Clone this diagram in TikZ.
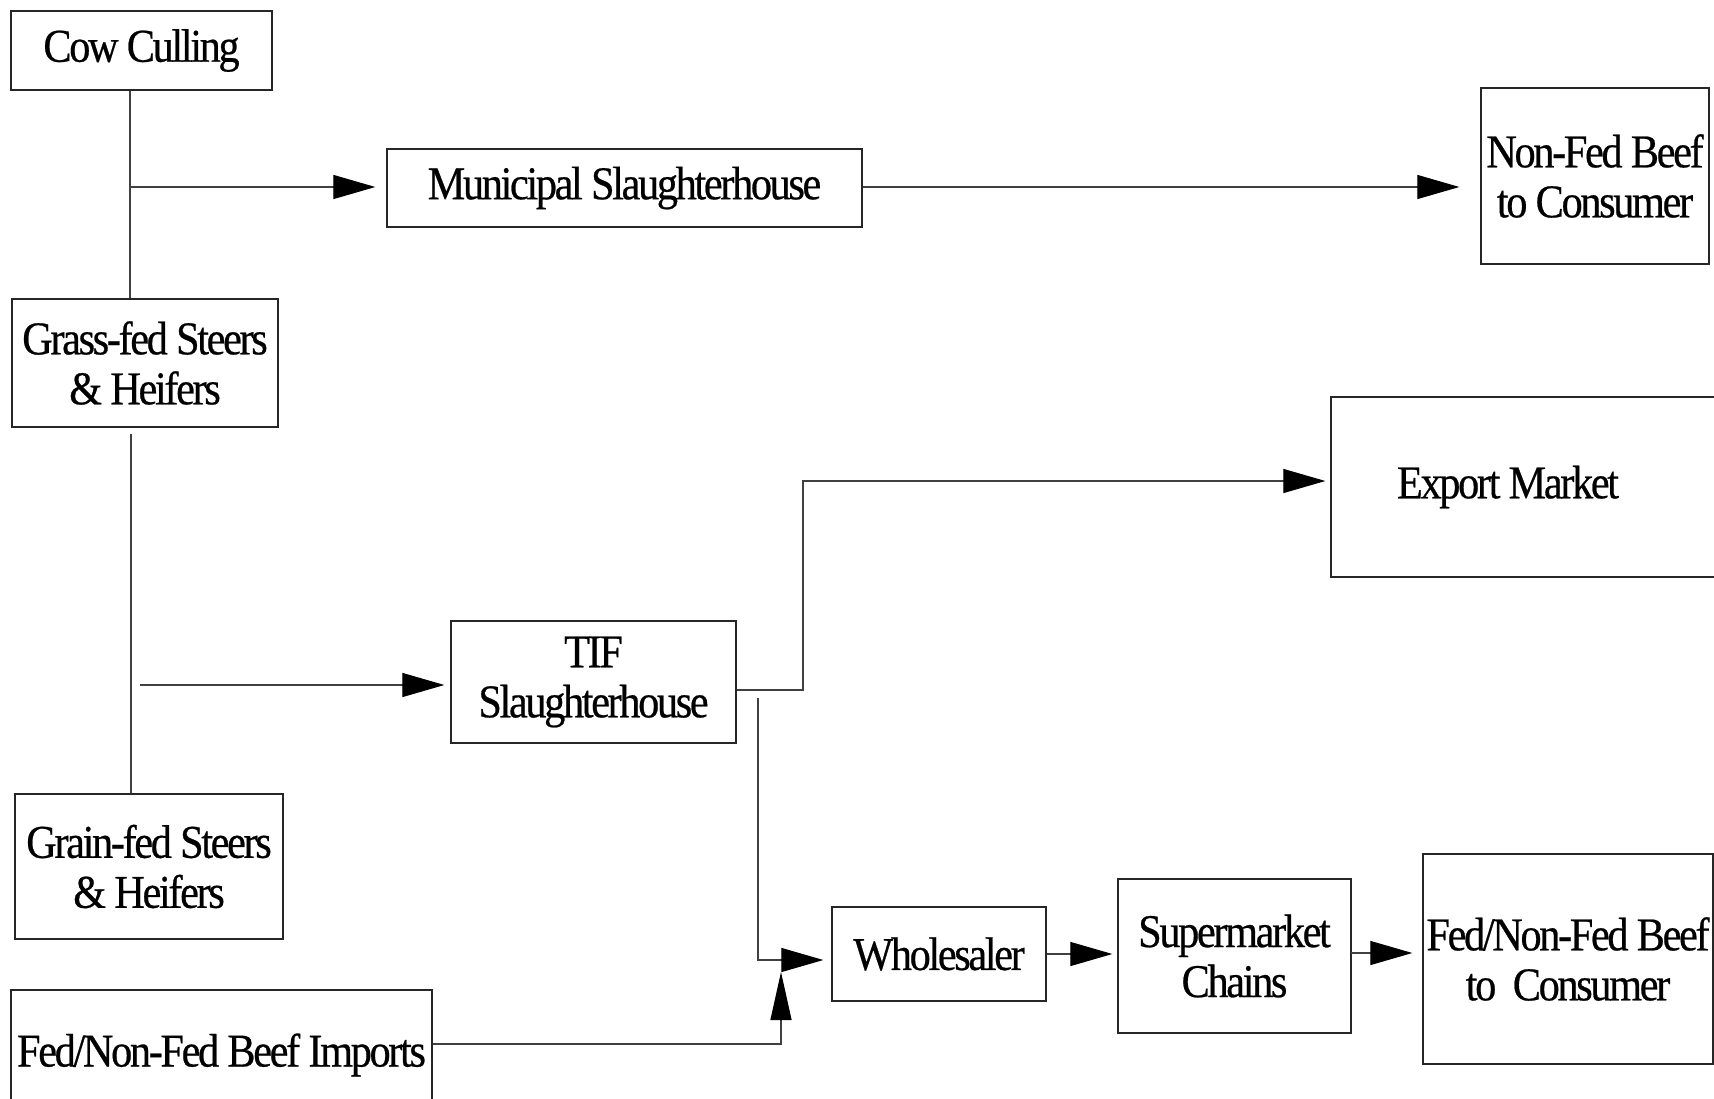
\documentclass[tikz,border=0pt]{standalone}
\usepackage{fontspec}
\setmainfont{Liberation Serif}[FakeStretch=0.9,LetterSpace=-5,FakeBold=0.5]
\usetikzlibrary{arrows.meta}
\begin{document}
\begin{tikzpicture}[x=1pt,y=-1pt,
  box/.style={draw=black!85, line width=1.3pt, inner sep=0pt, align=center,
              font=\fontsize{47}{50}\selectfont},
  conn/.style={draw=black!75, line width=1.2pt},
  arr/.style={conn, -{Triangle[length=42pt,width=24pt,black]}},
  uparr/.style={conn, -{Triangle[length=48pt,width=21pt,black]}}]
\useasboundingbox (0,0) rectangle (1714,1099);
\clip (0,0) rectangle (1714,1099);
\fill[white] (0,0) rectangle (1714,1099);

% boxes
\node[box, minimum width=261pt, minimum height=79pt]  (cow)     at (141.5,50.5) {Cow Culling};
\node[box, minimum width=475pt, minimum height=78pt]  (muni)    at (624.5,188)  {Municipal Slaughterhouse};
\node[box, minimum width=228pt, minimum height=176pt] (nonfed)  at (1595,176)   {Non-Fed Beef\\to Consumer};
\node[box, minimum width=266pt, minimum height=128pt] (grass)   at (145,363)    {Grass-fed Steers\\\& Heifers};
\node[box, minimum width=394pt, minimum height=180pt] (export)  at (1528,487)   {Export Market\hspace{40pt}};
\node[box, minimum width=285pt, minimum height=122pt] (tif)     at (593.5,682)  {TIF\\Slaughterhouse};
\node[box, minimum width=268pt, minimum height=145pt] (grain)   at (149,866.5)  {Grain-fed Steers\\\& Heifers};
\node[box, minimum width=421pt, minimum height=130pt] (imports) at (221.5,1055)  {Fed/Non-Fed Beef Imports};
\node[box, minimum width=214pt, minimum height=94pt]  (whole)   at (939,954)    {Wholesaler};
\node[box, minimum width=233pt, minimum height=154pt] (super)   at (1234.5,956) {Supermarket\\Chains};
\node[box, minimum width=290pt, minimum height=210pt] (fed)     at (1568,959)   {Fed/Non-Fed Beef\\to\ \ Consumer};

% trunk from Cow Culling to Grass-fed
\coordinate (t1) at (130,0);
\draw[conn] (cow.south -| t1) -- (grass.north -| t1);
\coordinate (j1) at (130,187);
\draw[arr, shorten >=11pt] (j1) -- (j1 -| muni.west);
\draw[arr, shorten >=21pt] (muni.east |- j1) -- (nonfed.west |- j1);

% trunk from Grass-fed to Grain-fed
\coordinate (t2) at (131,0);
\draw[conn] ([yshift=-6pt]grass.south -| t2) -- (grain.north -| t2);
\coordinate (j2) at (140,685);
\draw[arr, shorten >=6pt] (j2) -- (j2 -| tif.west);

% TIF to Export Market
\coordinate (e1) at (803,690);
\coordinate (e2) at (803,481);
\draw[arr, shorten >=5pt] (tif.east |- e1) -- (e1) -- (e2) -- (e2 -| export.west);

% TIF to Wholesaler
\coordinate (w1) at (758,698);
\coordinate (w2) at (758,960);
\draw[arr, shorten >=8pt] (w1) -- (w2) -- (w2 -| whole.west);

% Imports to Wholesaler junction
\coordinate (i1) at (781,1044);
\coordinate (i2) at (781,972);
\draw[uparr] (imports.east |- i1) -- (i1) -- (i2);

% chain to consumer
\draw[arr, shorten >=5pt] (whole.east) -- (whole.east -| super.west);
\coordinate (s1) at (1351,953);
\draw[arr, shorten >=10pt] (s1) -- (s1 -| fed.west);
\end{tikzpicture}
\end{document}
